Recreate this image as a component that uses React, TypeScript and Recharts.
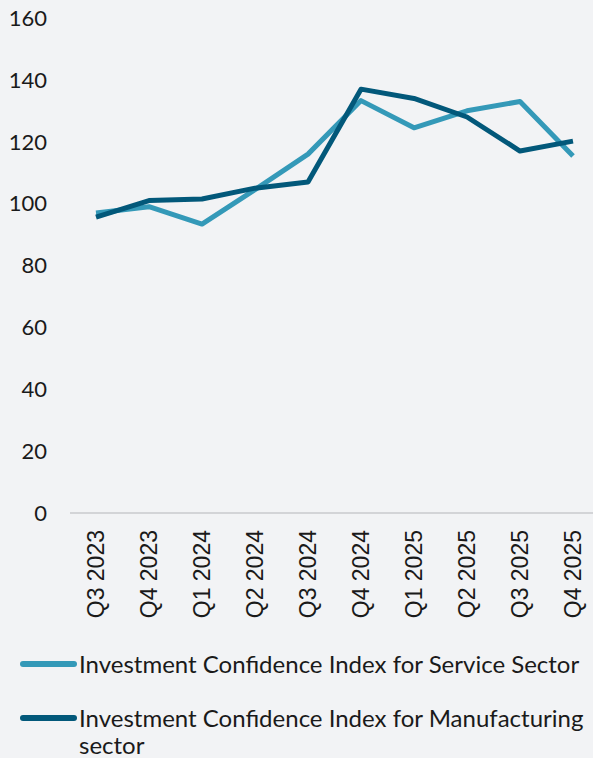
import React from 'react';
import { LineChart, Line, XAxis, YAxis } from 'recharts';

const quarters = ['Q3 2023', 'Q4 2023', 'Q1 2024', 'Q2 2024', 'Q3 2024', 'Q4 2024', 'Q1 2025', 'Q2 2025', 'Q3 2025', 'Q4 2025'];
const serviceIndex = [97, 99, 93.4, 104.5, 116, 133.3, 124.5, 130, 133, 115.4];
const manufacturingIndex = [95.6, 101, 101.5, 105, 107, 137, 134, 128, 117, 120.2];
const yTicks = [0, 20, 40, 60, 80, 100, 120, 140, 160];

const SERVICE_COLOR = '#3499b8';
const MANUF_COLOR = '#02587a';
const BG = '#f2f3f5';

const data = quarters.map((q, i) => ({
  quarter: q,
  service: serviceIndex[i],
  manufacturing: manufacturingIndex[i],
}));

const QuarterTick = (props: any) => {
  const { x, payload } = props;
  return (
    <g transform={`translate(${x},530)`}>
      <text
        transform="rotate(-90)"
        textAnchor="end"
        dy="0.36em"
        fill="#1a1a1a"
        fontSize={23}
        fontFamily="'Liberation Sans', Arial, sans-serif"
      >
        {payload.value}
      </text>
    </g>
  );
};

const legendItems = [
  { label: 'Investment Confidence Index for Service Sector', color: SERVICE_COLOR, top: 650 },
  { label: 'Investment Confidence Index for Manufacturing sector', color: MANUF_COLOR, top: 704 },
];

export default function App() {
  return (
    <div style={{ position: 'fixed', left: 0, top: 0, width: 593, height: 758, background: BG, overflow: 'hidden' }}>
      <LineChart width={600} height={640} data={data} margin={{ top: 18, right: 0, bottom: 0, left: 0 }}>
        <XAxis
          dataKey="quarter"
          interval={0}
          height={127}
          padding={{ left: 26, right: 27 }}
          tick={<QuarterTick />}
          tickLine={false}
          axisLine={{ stroke: '#c9cacc', strokeWidth: 1.5 }}
        />
        <YAxis
          width={70}
          domain={[0, 160]}
          ticks={yTicks}
          axisLine={false}
          tickLine={false}
          tickSize={0}
          tickMargin={23}
          tick={{ fill: '#1a1a1a', fontSize: 22, fontFamily: 'Lato, sans-serif' }}
        />
        <Line dataKey="service" stroke={SERVICE_COLOR} strokeWidth={5} dot={false} isAnimationActive={false} strokeLinejoin="round" />
        <Line dataKey="manufacturing" stroke={MANUF_COLOR} strokeWidth={5} dot={false} isAnimationActive={false} strokeLinejoin="round" />
      </LineChart>
      {legendItems.map((item) => (
        <div
          key={item.label}
          style={{
            position: 'absolute',
            left: 20,
            top: item.top,
            width: 573,
            display: 'flex',
            alignItems: 'flex-start',
            fontFamily: 'Lato, sans-serif',
            fontSize: 24,
            lineHeight: '27px',
            color: '#1a1a1a',
          }}
        >
          <span
            style={{
              flex: '0 0 57px',
              height: 6,
              borderRadius: 3,
              background: item.color,
              marginTop: 11,
              marginRight: 2,
            }}
          />
          <span>{item.label}</span>
        </div>
      ))}
    </div>
  );
}
